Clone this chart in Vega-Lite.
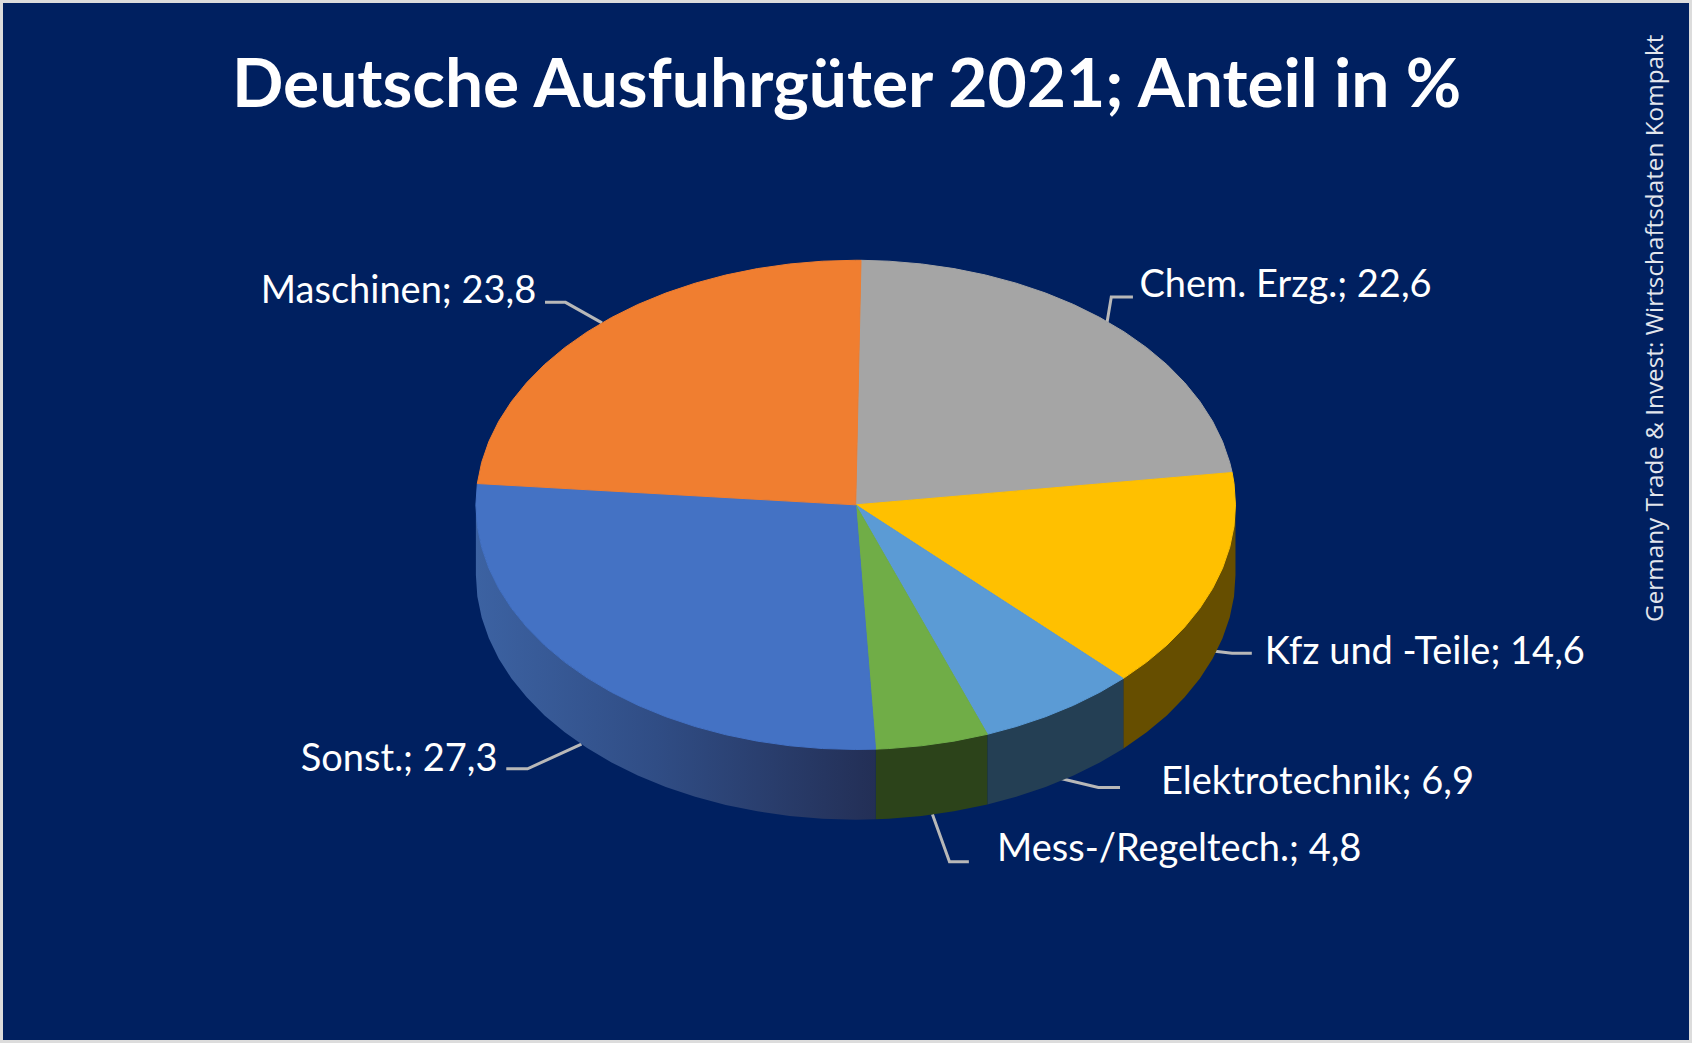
{
  "$schema": "https://vega.github.io/schema/vega-lite/v6.json",
  "width": 1692,
  "height": 1043,
  "autosize": {"type": "fit", "contains": "padding"},
  "padding": 0,
  "background": "#002060",
  "title": {
    "text": "Deutsche Ausfuhrgüter 2021; Anteil in %",
    "font": "Lato",
    "fontWeight": "bold",
    "fontSize": 67.7,
    "color": "#ffffff",
    "anchor": "start",
    "frame": "group",
    "dx": 232,
    "offset": -122
  },
  "config": {"view": {"stroke": "#dcdcdc", "strokeWidth": 6}},
  "encoding": {
    "x": {"field": "x", "type": "quantitative", "axis": null, "scale": {"domain": [-2.253, 2.202], "nice": false, "zero": false}},
    "y": {"field": "y", "type": "quantitative", "axis": null, "scale": {"domain": [-2.2, 2.064], "nice": false, "zero": false}}
  },
  "resolve": {"scale": {"color": "independent", "stroke": "independent"}},
  "layer": [
    {
      "data": {"values": [
        {"s": "Masch", "i": 0, "x": -0.818, "y": 0.828}, {"s": "Masch", "i": 1, "x": -0.764, "y": 0.828}, {"s": "Masch", "i": 2, "x": -0.668, "y": 0.744},
        {"s": "Chem", "i": 0, "x": 0.73, "y": 0.85}, {"s": "Chem", "i": 1, "x": 0.673, "y": 0.85}, {"s": "Chem", "i": 2, "x": 0.662, "y": 0.748},
        {"s": "Kfz", "i": 0, "x": 1.043, "y": -0.607}, {"s": "Kfz", "i": 1, "x": 0.991, "y": -0.607}, {"s": "Kfz", "i": 2, "x": 0.946, "y": -0.598},
        {"s": "Elektro", "i": 0, "x": 0.696, "y": -1.155}, {"s": "Elektro", "i": 1, "x": 0.639, "y": -1.155}, {"s": "Elektro", "i": 2, "x": 0.54, "y": -1.119},
        {"s": "Mess", "i": 0, "x": 0.298, "y": -1.459}, {"s": "Mess", "i": 1, "x": 0.247, "y": -1.459}, {"s": "Mess", "i": 2, "x": 0.202, "y": -1.265},
        {"s": "Sonst", "i": 0, "x": -0.92, "y": -1.079}, {"s": "Sonst", "i": 1, "x": -0.864, "y": -1.079}, {"s": "Sonst", "i": 2, "x": -0.722, "y": -0.978}
      ]},
      "mark": {"type": "line", "color": "#b8b8b8", "strokeWidth": 3},
      "encoding": {"detail": {"field": "s"}, "order": {"field": "i"}}
    },
    {
      "data": {"values": [
        {"s": "Kfz", "x": 1, "y": 0, "y2": -0.287}, {"s": "Kfz", "x": 0.9962, "y": -0.0872, "y2": -0.3742}, {"s": "Kfz", "x": 0.9848, "y": -0.1736, "y2": -0.4606}, {"s": "Kfz", "x": 0.9659, "y": -0.2588, "y2": -0.5458}, {"s": "Kfz", "x": 0.9397, "y": -0.342, "y2": -0.629}, {"s": "Kfz", "x": 0.9063, "y": -0.4226, "y2": -0.7096}, {"s": "Kfz", "x": 0.866, "y": -0.5, "y2": -0.787}, {"s": "Kfz", "x": 0.8192, "y": -0.5736, "y2": -0.8606}, {"s": "Kfz", "x": 0.766, "y": -0.6428, "y2": -0.9298}, {"s": "Kfz", "x": 0.7071, "y": -0.7071, "y2": -0.9941}, {"s": "Kfz", "x": 0.7046, "y": -0.7096, "y2": -0.9966},
        {"s": "Elektro", "x": 0.7046, "y": -0.7096, "y2": -0.9966}, {"s": "Elektro", "x": 0.6428, "y": -0.766, "y2": -1.053}, {"s": "Elektro", "x": 0.5736, "y": -0.8192, "y2": -1.1062}, {"s": "Elektro", "x": 0.5, "y": -0.866, "y2": -1.153}, {"s": "Elektro", "x": 0.4226, "y": -0.9063, "y2": -1.1933}, {"s": "Elektro", "x": 0.3469, "y": -0.9379, "y2": -1.2249},
        {"s": "Mess", "x": 0.3469, "y": -0.9379, "y2": -1.2249}, {"s": "Mess", "x": 0.2588, "y": -0.9659, "y2": -1.2529}, {"s": "Mess", "x": 0.1736, "y": -0.9848, "y2": -1.2718}, {"s": "Mess", "x": 0.0872, "y": -0.9962, "y2": -1.2832}, {"s": "Mess", "x": 0.0523, "y": -0.9986, "y2": -1.2856}
      ]},
      "mark": {"type": "area"},
      "encoding": {
        "y2": {"field": "y2"},
        "color": {"field": "s", "type": "nominal", "legend": null, "scale": {"domain": ["Kfz", "Elektro", "Mess"], "range": ["#664e00", "#243f54", "#2c431a"]}}
      }
    },
    {
      "data": {"values": [
        {"x": 0.0523, "y": -0.9986, "y2": -1.2856}, {"x": 0, "y": -1, "y2": -1.287}, {"x": -0.0872, "y": -0.9962, "y2": -1.2832}, {"x": -0.1736, "y": -0.9848, "y2": -1.2718}, {"x": -0.2588, "y": -0.9659, "y2": -1.2529}, {"x": -0.342, "y": -0.9397, "y2": -1.2267}, {"x": -0.4226, "y": -0.9063, "y2": -1.1933}, {"x": -0.5, "y": -0.866, "y2": -1.153}, {"x": -0.5736, "y": -0.8192, "y2": -1.1062}, {"x": -0.6428, "y": -0.766, "y2": -1.053}, {"x": -0.7071, "y": -0.7071, "y2": -0.9941}, {"x": -0.766, "y": -0.6428, "y2": -0.9298}, {"x": -0.8192, "y": -0.5736, "y2": -0.8606}, {"x": -0.866, "y": -0.5, "y2": -0.787}, {"x": -0.9063, "y": -0.4226, "y2": -0.7096}, {"x": -0.9397, "y": -0.342, "y2": -0.629}, {"x": -0.9659, "y": -0.2588, "y2": -0.5458}, {"x": -0.9848, "y": -0.1736, "y2": -0.4606}, {"x": -0.9962, "y": -0.0872, "y2": -0.3742}, {"x": -1, "y": 0, "y2": -0.287}
      ]},
      "mark": {
        "type": "area",
        "fill": {"gradient": "linear", "x1": 0, "y1": 0, "x2": 1, "y2": 0, "stops": [{"offset": 0, "color": "#3c62a2"}, {"offset": 0.45, "color": "#304d85"}, {"offset": 1, "color": "#232f56"}]}
      },
      "encoding": {"y2": {"field": "y2"}}
    },
    {
      "data": {"values": [
        {"s": "Chem", "i": 0, "x": 0, "y": 0}, {"s": "Chem", "i": 1, "x": 0.014, "y": 0.9999}, {"s": "Chem", "i": 2, "x": 0.0872, "y": 0.9962}, {"s": "Chem", "i": 3, "x": 0.1736, "y": 0.9848}, {"s": "Chem", "i": 4, "x": 0.2588, "y": 0.9659}, {"s": "Chem", "i": 5, "x": 0.342, "y": 0.9397}, {"s": "Chem", "i": 6, "x": 0.4226, "y": 0.9063}, {"s": "Chem", "i": 7, "x": 0.5, "y": 0.866}, {"s": "Chem", "i": 8, "x": 0.5736, "y": 0.8192}, {"s": "Chem", "i": 9, "x": 0.6428, "y": 0.766}, {"s": "Chem", "i": 10, "x": 0.7071, "y": 0.7071}, {"s": "Chem", "i": 11, "x": 0.766, "y": 0.6428}, {"s": "Chem", "i": 12, "x": 0.8192, "y": 0.5736}, {"s": "Chem", "i": 13, "x": 0.866, "y": 0.5}, {"s": "Chem", "i": 14, "x": 0.9063, "y": 0.4226}, {"s": "Chem", "i": 15, "x": 0.9397, "y": 0.342}, {"s": "Chem", "i": 16, "x": 0.9659, "y": 0.2588}, {"s": "Chem", "i": 17, "x": 0.9848, "y": 0.1736}, {"s": "Chem", "i": 18, "x": 0.9912, "y": 0.1323}, {"s": "Chem", "i": 19, "x": 0, "y": 0},
        {"s": "Kfz", "i": 0, "x": 0, "y": 0}, {"s": "Kfz", "i": 1, "x": 0.9912, "y": 0.1323}, {"s": "Kfz", "i": 2, "x": 0.9962, "y": 0.0872}, {"s": "Kfz", "i": 3, "x": 1, "y": 0}, {"s": "Kfz", "i": 4, "x": 0.9962, "y": -0.0872}, {"s": "Kfz", "i": 5, "x": 0.9848, "y": -0.1736}, {"s": "Kfz", "i": 6, "x": 0.9659, "y": -0.2588}, {"s": "Kfz", "i": 7, "x": 0.9397, "y": -0.342}, {"s": "Kfz", "i": 8, "x": 0.9063, "y": -0.4226}, {"s": "Kfz", "i": 9, "x": 0.866, "y": -0.5}, {"s": "Kfz", "i": 10, "x": 0.8192, "y": -0.5736}, {"s": "Kfz", "i": 11, "x": 0.766, "y": -0.6428}, {"s": "Kfz", "i": 12, "x": 0.7071, "y": -0.7071}, {"s": "Kfz", "i": 13, "x": 0.7046, "y": -0.7096}, {"s": "Kfz", "i": 14, "x": 0, "y": 0},
        {"s": "Elektro", "i": 0, "x": 0, "y": 0}, {"s": "Elektro", "i": 1, "x": 0.7046, "y": -0.7096}, {"s": "Elektro", "i": 2, "x": 0.6428, "y": -0.766}, {"s": "Elektro", "i": 3, "x": 0.5736, "y": -0.8192}, {"s": "Elektro", "i": 4, "x": 0.5, "y": -0.866}, {"s": "Elektro", "i": 5, "x": 0.4226, "y": -0.9063}, {"s": "Elektro", "i": 6, "x": 0.3469, "y": -0.9379}, {"s": "Elektro", "i": 7, "x": 0, "y": 0},
        {"s": "Mess", "i": 0, "x": 0, "y": 0}, {"s": "Mess", "i": 1, "x": 0.3469, "y": -0.9379}, {"s": "Mess", "i": 2, "x": 0.2588, "y": -0.9659}, {"s": "Mess", "i": 3, "x": 0.1736, "y": -0.9848}, {"s": "Mess", "i": 4, "x": 0.0872, "y": -0.9962}, {"s": "Mess", "i": 5, "x": 0.0523, "y": -0.9986}, {"s": "Mess", "i": 6, "x": 0, "y": 0},
        {"s": "Sonst", "i": 0, "x": 0, "y": 0}, {"s": "Sonst", "i": 1, "x": 0.0523, "y": -0.9986}, {"s": "Sonst", "i": 2, "x": 0, "y": -1}, {"s": "Sonst", "i": 3, "x": -0.0872, "y": -0.9962}, {"s": "Sonst", "i": 4, "x": -0.1736, "y": -0.9848}, {"s": "Sonst", "i": 5, "x": -0.2588, "y": -0.9659}, {"s": "Sonst", "i": 6, "x": -0.342, "y": -0.9397}, {"s": "Sonst", "i": 7, "x": -0.4226, "y": -0.9063}, {"s": "Sonst", "i": 8, "x": -0.5, "y": -0.866}, {"s": "Sonst", "i": 9, "x": -0.5736, "y": -0.8192}, {"s": "Sonst", "i": 10, "x": -0.6428, "y": -0.766}, {"s": "Sonst", "i": 11, "x": -0.7071, "y": -0.7071}, {"s": "Sonst", "i": 12, "x": -0.766, "y": -0.6428}, {"s": "Sonst", "i": 13, "x": -0.8192, "y": -0.5736}, {"s": "Sonst", "i": 14, "x": -0.866, "y": -0.5}, {"s": "Sonst", "i": 15, "x": -0.9063, "y": -0.4226}, {"s": "Sonst", "i": 16, "x": -0.9397, "y": -0.342}, {"s": "Sonst", "i": 17, "x": -0.9659, "y": -0.2588}, {"s": "Sonst", "i": 18, "x": -0.9848, "y": -0.1736}, {"s": "Sonst", "i": 19, "x": -0.9962, "y": -0.0872}, {"s": "Sonst", "i": 20, "x": -1, "y": 0}, {"s": "Sonst", "i": 21, "x": -0.9962, "y": 0.0872}, {"s": "Sonst", "i": 22, "x": 0, "y": 0},
        {"s": "Masch", "i": 0, "x": 0, "y": 0}, {"s": "Masch", "i": 1, "x": -0.9962, "y": 0.0872}, {"s": "Masch", "i": 2, "x": -0.9848, "y": 0.1736}, {"s": "Masch", "i": 3, "x": -0.9659, "y": 0.2588}, {"s": "Masch", "i": 4, "x": -0.9397, "y": 0.342}, {"s": "Masch", "i": 5, "x": -0.9063, "y": 0.4226}, {"s": "Masch", "i": 6, "x": -0.866, "y": 0.5}, {"s": "Masch", "i": 7, "x": -0.8192, "y": 0.5736}, {"s": "Masch", "i": 8, "x": -0.766, "y": 0.6428}, {"s": "Masch", "i": 9, "x": -0.7071, "y": 0.7071}, {"s": "Masch", "i": 10, "x": -0.6428, "y": 0.766}, {"s": "Masch", "i": 11, "x": -0.5736, "y": 0.8192}, {"s": "Masch", "i": 12, "x": -0.5, "y": 0.866}, {"s": "Masch", "i": 13, "x": -0.4226, "y": 0.9063}, {"s": "Masch", "i": 14, "x": -0.342, "y": 0.9397}, {"s": "Masch", "i": 15, "x": -0.2588, "y": 0.9659}, {"s": "Masch", "i": 16, "x": -0.1736, "y": 0.9848}, {"s": "Masch", "i": 17, "x": -0.0872, "y": 0.9962}, {"s": "Masch", "i": 18, "x": 0, "y": 1}, {"s": "Masch", "i": 19, "x": 0.014, "y": 0.9999}, {"s": "Masch", "i": 20, "x": 0, "y": 0}
      ]},
      "mark": {"type": "line", "filled": true, "strokeWidth": 1},
      "encoding": {
        "order": {"field": "i"},
        "fill": {"field": "s", "type": "nominal", "legend": null, "scale": {"domain": ["Chem", "Kfz", "Elektro", "Mess", "Sonst", "Masch"], "range": ["#a5a5a5", "#ffc000", "#5b9bd5", "#70ad47", "#4472c4", "#f07e30"]}},
        "stroke": {"field": "s", "type": "nominal", "legend": null, "scale": {"domain": ["Chem", "Kfz", "Elektro", "Mess", "Sonst", "Masch"], "range": ["#a5a5a5", "#ffc000", "#5b9bd5", "#70ad47", "#4472c4", "#f07e30"]}}
      }
    },
    {
      "data": {"values": [
        {"label": "Chem. Erzg.; 22,6", "x": 0.747, "y": 0.893},
        {"label": "Kfz und -Teile; 14,6", "x": 1.077, "y": -0.604},
        {"label": "Elektrotechnik; 6,9", "x": 0.804, "y": -1.138},
        {"label": "Mess-/Regeltech.; 4,8", "x": 0.372, "y": -1.412}
      ]},
      "mark": {"type": "text", "font": "Lato", "fontSize": 38, "color": "#ffffff", "align": "left", "baseline": "middle"},
      "encoding": {"text": {"field": "label"}}
    },
    {
      "data": {"values": [
        {"label": "Maschinen; 23,8", "x": -0.841, "y": 0.871},
        {"label": "Sonst.; 27,3", "x": -0.943, "y": -1.041}
      ]},
      "mark": {"type": "text", "font": "Lato", "fontSize": 38, "color": "#ffffff", "align": "right", "baseline": "middle"},
      "encoding": {"text": {"field": "label"}}
    },
    {
      "data": {"values": [
        {"label": "Germany Trade & Invest: Wirtschaftsdaten Kompakt", "x": 2.108, "y": 0.722}
      ]},
      "mark": {"type": "text", "font": "Open Sans", "fontSize": 24.3, "color": "#e3e6ec", "align": "center", "baseline": "middle", "angle": 270},
      "encoding": {"text": {"field": "label"}}
    }
  ]
}
